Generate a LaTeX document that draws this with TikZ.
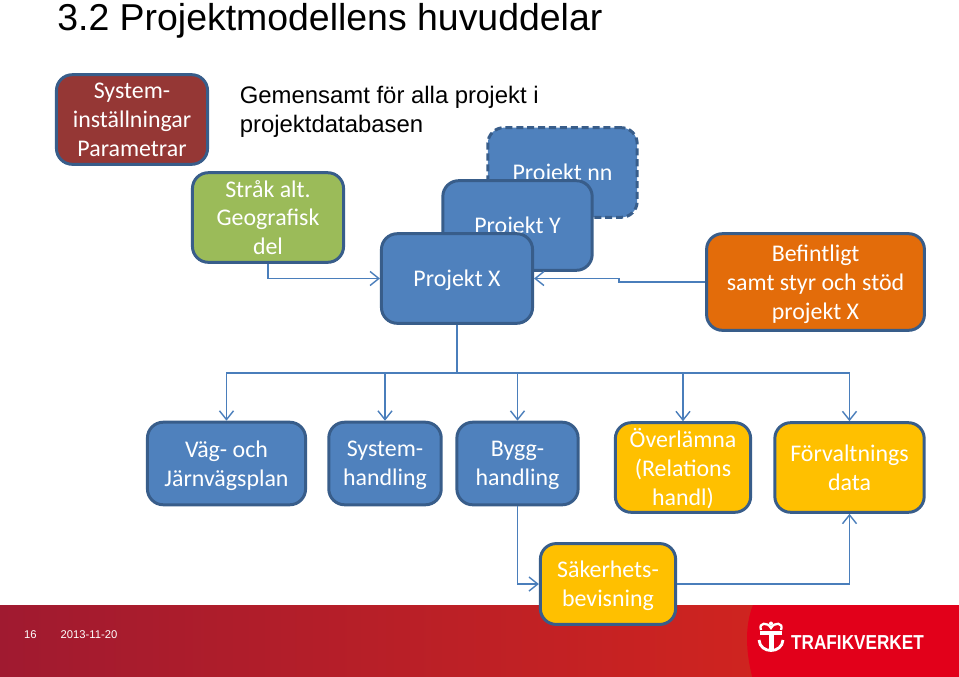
\documentclass[tikz,border=0pt]{standalone}
\usepackage{fontspec}
\setmainfont{Carlito}
\newfontfamily\arialfont{Liberation Sans}
\usetikzlibrary{arrows.meta}

\definecolor{boxline}{HTML}{385D8A}
\definecolor{linkline}{HTML}{4A7EBB}
\definecolor{boxblue}{HTML}{4F81BD}
\definecolor{boxred}{HTML}{953735}
\definecolor{boxgreen}{HTML}{9BBB59}
\definecolor{boxorange}{HTML}{E36C0A}
\definecolor{boxyellow}{HTML}{FFC000}
\definecolor{footdark}{HTML}{A01A30}
\definecolor{footlight}{HTML}{D0241F}
\definecolor{footred}{HTML}{E2001A}

\tikzset{
  stepbox/.style={draw=boxline, line width=1.7pt, rounded corners=9pt, text=white,
    align=center, inner sep=0pt, font=\fontsize{13.6}{16.4}\selectfont, text depth=-2pt},
  link/.style={draw=linkline, line width=0.8pt, >={Straight Barb[length=5pt,width=8pt]}},
}

\begin{document}
\begin{tikzpicture}[x=0.02cm, y=-0.02cm]
\useasboundingbox (0, 0) rectangle (959, 676);

% Footer
\shade[left color=footdark, right color=footlight, shading angle=90] (0, 605) rectangle (770, 680);
\fill[footred] (753, 605) .. controls (745, 625) and (745, 650) .. (753, 680) -- (965, 680) -- (965, 605) -- cycle;
\node[text=white, font=\arialfont\fontsize{6.4}{8}\selectfont] (page-no) at (30.5, 635) {16};
\node[text=white, font=\arialfont\fontsize{6.4}{8}\selectfont] (page-date) at (89, 635) {2013-11-20};

% Logo
\node[text=white, xscale=0.85, font=\arialfont\bfseries\fontsize{11.5}{14}\selectfont] (logo-text) at (857.5, 643) {TRAFIKVERKET};
\fill[white] (760, 631) rectangle (782, 634.5);
\fill[white] (768.5, 634) rectangle (773.5, 651);
\draw[white, line width=1.6pt] (759, 640) .. controls (760, 654) and (782, 654) .. (783, 640);
\draw[white, line width=1.3pt] (761, 630) .. controls (758, 622) and (768, 622) .. (771, 628) .. controls (774, 622) and (784, 622) .. (781, 630);
\fill[white] (771, 623.5) circle (2);

% Titles
\node[anchor=base west, inner sep=0pt, text=black, font=\arialfont\fontsize{21.3}{25}\selectfont] (title) at (57, 30.5) {3.2 Projektmodellens huvuddelar};
\node[anchor=north west, inner sep=0pt, align=left, text=black, font=\arialfont\fontsize{13.6}{16.6}\selectfont] (common) at (239.5, 86) {Gemensamt för alla projekt i\\projektdatabasen};

% Links
\coordinate (bus) at (457, 373);
\coordinate (jog) at (619, 282);
\node[stepbox, fill=boxred, text depth=-5pt, minimum width=86pt, minimum height=51pt] (system) at (132, 119.5) {System-\\inställningar\\Parametrar};
\node[stepbox, fill=boxgreen, text depth=-1.4pt, minimum width=86pt, minimum height=51pt] (strak) at (268, 217.5) {Stråk alt.\\Geografisk\\del};

% Projects
\node[stepbox, fill=boxblue, dash pattern=on 4pt off 2.2pt, text depth=-0.3pt, minimum width=85pt, minimum height=51pt] (proj-nn) at (562.5, 172.5) {Projekt nn};
\node[stepbox, fill=boxblue, text depth=-0.3pt, minimum width=85pt, minimum height=51pt] (proj-y) at (517.5, 225.5) {Projekt Y};
\node[stepbox, fill=boxblue, text depth=0.5pt, minimum width=86pt, minimum height=51pt] (proj-x) at (457, 278.5) {Projekt X};
\node[stepbox, fill=boxorange, text depth=-2.6pt, minimum width=124pt, minimum height=55pt] (befintligt) at (815.5, 282) {Befintligt\\samt styr och stöd\\projekt X};

% Deliveries
\node[stepbox, fill=boxblue, minimum width=90pt, minimum height=47pt] (vag) at (226.5, 463.5) {Väg- och\\Järnvägsplan};
\node[stepbox, fill=boxblue, minimum width=64pt, minimum height=47pt] (syshandl) at (385, 463.5) {System-\\handling};
\node[stepbox, fill=boxblue, minimum width=69pt, minimum height=47pt] (bygg) at (517.5, 463.5) {Bygg-\\handling};
\node[stepbox, fill=boxyellow, text depth=0.6pt, minimum width=77pt, minimum height=51pt] (overl) at (683, 467.5) {Överlämna\\(Relations\\handl)};
\node[stepbox, fill=boxyellow, text depth=-1pt, minimum width=85pt, minimum height=51pt] (forv) at (849.5, 467.5) {Förvaltnings\\data};
\node[stepbox, fill=boxyellow, minimum width=77pt, minimum height=46pt] (saker) at (608, 584) {Säkerhets-\\bevisning};

\draw[link, ->] (strak.south) |- (proj-x.west);
\draw[link, ->] (befintligt.west) -- (jog) |- (proj-x.east);
\draw[link] (proj-x.south) -- (bus);
\draw[link, ->] (bus) -| (vag.north);
\draw[link, ->] (bus) -| (syshandl.north);
\draw[link, ->] (bus) -| (bygg.north);
\draw[link, ->] (bus) -| (overl.north);
\draw[link, ->] (bus) -| (forv.north);
\draw[link, ->] (bygg.south) |- (saker.west);
\draw[link, ->] (saker.east) -| (forv.south);

\end{tikzpicture}
\end{document}
